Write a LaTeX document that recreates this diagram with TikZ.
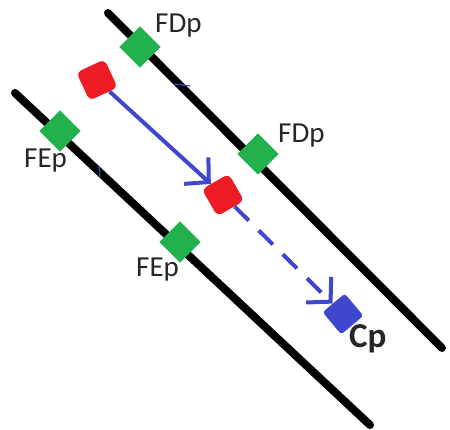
\documentclass[tikz,border=0pt]{standalone}
\usepackage{fontspec}
\setmainfont{Carlito}
\usetikzlibrary{arrows.meta}
\definecolor{pgreen}{RGB}{34,177,76}
\definecolor{pred}{RGB}{237,28,36}
\definecolor{pblue}{RGB}{63,72,204}
\begin{document}
\begin{tikzpicture}[x=1pt,y=-1pt,
 wall/.style={line width=8pt, line cap=round},
 gsq/.style={fill=pgreen, minimum size=29pt, inner sep=0pt, rotate=45},
 rsq/.style={fill=pred, minimum size=31pt, inner sep=0pt, rounded corners=5pt},
 bsq/.style={fill=pblue, minimum size=29pt, inner sep=0pt, rotate=40, rounded corners=3pt},
 lab/.style={font=\fontsize{29}{30}\selectfont, text=black!85, inner sep=0pt, anchor=base west},
 motion/.style={draw=pblue, line width=4pt, -{Straight Barb[length=17pt,width=36pt,line width=4pt]}},
 stray/.style={draw=pblue, line width=1.2pt},
]
\useasboundingbox (0,0) rectangle (450,430);
\coordinate (w1a) at (108,13); \coordinate (w1b) at (442,348);
\coordinate (w2a) at (15,93); \coordinate (w2b) at (370,425);
\draw[wall] (w1a) -- (w1b);
\draw[wall] (w2a) -- (w2b);
\coordinate (s1a) at (174,84); \coordinate (s1b) at (190,86);
\coordinate (s2a) at (99,166); \coordinate (s2b) at (100,177);
\draw[stray] (s1a) -- (s1b);
\draw[stray] (s2a) -- (s2b);
% squares
\node[gsq] (fd1) at (140,47) {};
\node[gsq] (fd2) at (258,154) {};
\node[gsq] (fe1) at (60,131) {};
\node[gsq] (fe2) at (180,242) {};
\node[rsq, rotate=25] (r1) at (97,80) {};
\node[rsq, rotate=30] (r2) at (223,195) {};
\node[bsq] (cp) at (343,314) {};
% motion arrows
\draw[motion] (r1) -- (r2);
\draw[motion, dash pattern=on 20pt off 14pt] (r2) -- (cp);
% labels
\node[lab] (tfd1) at (155,33) {FDp};
\node[lab] (tfd2) at (278,143) {FDp};
\node[lab] (tfe1) at (24,168) {FEp};
\node[lab] (tfe2) at (136,277) {FEp};
\node[lab, font=\fontsize{35}{36}\selectfont\bfseries] (tcp) at (349,348) {Cp};
\end{tikzpicture}
\end{document}
